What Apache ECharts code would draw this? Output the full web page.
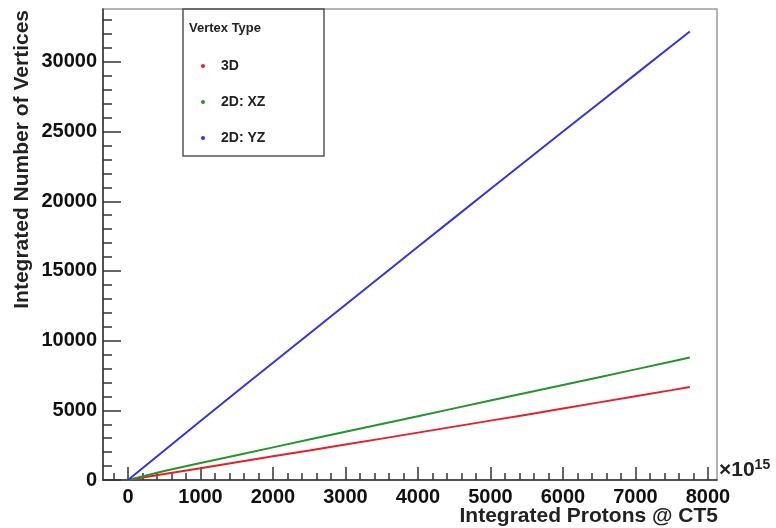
<!DOCTYPE html>
<html>
<head>
<meta charset="utf-8">
<script src="https://cdn.jsdelivr.net/npm/echarts@6/dist/echarts.min.js"></script>
<style>
  html, body { margin: 0; padding: 0; background: #fff; }
  #chart { width: 776px; height: 528px; }
</style>
</head>
<body>
<div id="chart"></div>
<script>
// Integrated protons on target (x 10^15)
const protons = [0, 500, 1000, 1500, 2000, 2500, 3000, 3500, 4000, 4500, 5000, 5500, 6000, 6500, 7000, 7500, 7750];
// Integrated vertex counts per vertex type
const vertices3D = [0, 430, 850, 1280, 1700, 2120, 2550, 2970, 3400, 3830, 4260, 4690, 5130, 5570, 6010, 6450, 6680];
const verticesXZ = [0, 640, 1220, 1780, 2340, 2900, 3460, 4020, 4580, 5140, 5700, 6260, 6820, 7380, 7940, 8500, 8790];
const verticesYZ = [0, 2120, 4230, 6330, 8420, 10500, 12580, 14660, 16740, 18810, 20880, 22950, 25010, 27060, 29110, 31160, 32180];

const seriesNames = ['3D', '2D: XZ', '2D: YZ'];
const seriesColors = ['#e6202a', '#22962a', '#3434dc'];
const seriesValues = [vertices3D, verticesXZ, verticesYZ];

// Axis ranges and tick positions
const xMin = -345, xMax = 8125;
const yMin = 0, yMax = 33800;
const xMajorTicks = [0, 1000, 2000, 3000, 4000, 5000, 6000, 7000, 8000];
const xMinorTicks = [];
for (let v = -200; v <= 8000; v += 200) xMinorTicks.push(v);
const yMajorTicks = [0, 5000, 10000, 15000, 20000, 25000, 30000];
const yMinorTicks = [];
for (let v = 0; v <= 33000; v += 1000) yMinorTicks.push(v);

const FONT = '"Liberation Sans", Arial, Helvetica, sans-serif';
const labelStyle = {
  color: '#111', fontFamily: FONT, fontWeight: 'bold', fontSize: 20,
  formatter: (v) => String(Math.round(v))
};
const tickLine = { color: '#333', width: 1.5 };

const chart = echarts.init(document.getElementById('chart'), null, { renderer: 'canvas' });

chart.setOption({
  animation: false,
  backgroundColor: '#fff',
  grid: {
    left: 103, top: 9, right: 59, bottom: 48,
    show: true, borderColor: '#9a9a9a', borderWidth: 1.5, backgroundColor: 'transparent'
  },
  legend: {
    data: seriesNames,
    orient: 'vertical',
    left: 196, top: 54,
    itemGap: 22,
    icon: 'circle',
    itemWidth: 4, itemHeight: 4,
    textStyle: { color: '#222', fontFamily: FONT, fontWeight: 'bold', fontSize: 14, padding: [0, 0, 0, 11] }
  },
  xAxis: [
    {
      type: 'value', min: xMin, max: xMax,
      axisLine: { onZero: false, lineStyle: tickLine },
      axisTick: { inside: true, length: 13, customValues: xMajorTicks, lineStyle: tickLine },
      axisLabel: { customValues: xMajorTicks, margin: 7, ...labelStyle },
      splitLine: { show: false }
    },
    {
      type: 'value', min: xMin, max: xMax, position: 'bottom',
      axisLine: { show: false, onZero: false },
      axisTick: { inside: true, length: 7, customValues: xMinorTicks, lineStyle: tickLine },
      axisLabel: { show: false },
      splitLine: { show: false }
    }
  ],
  yAxis: [
    {
      type: 'value', min: yMin, max: yMax,
      axisLine: { show: true, onZero: false, lineStyle: tickLine },
      axisTick: { show: true, inside: true, length: 18, customValues: yMajorTicks, lineStyle: tickLine },
      axisLabel: { customValues: yMajorTicks, margin: 6, ...labelStyle },
      splitLine: { show: false }
    },
    {
      type: 'value', min: yMin, max: yMax, position: 'left',
      axisLine: { show: false, onZero: false },
      axisTick: { show: true, inside: true, length: 9, customValues: yMinorTicks, lineStyle: tickLine },
      axisLabel: { show: false },
      splitLine: { show: false }
    }
  ],
  series: seriesNames.map((name, i) => ({
    name: name,
    type: 'line',
    xAxisIndex: 0, yAxisIndex: 0,
    showSymbol: false,
    symbol: 'circle',
    color: seriesColors[i],
    lineStyle: { width: 2, color: seriesColors[i] },
    data: protons.map((p, k) => [p, seriesValues[i][k]])
  })),
  graphic: [
    {
      type: 'rect',
      shape: { x: 183, y: 9, width: 141, height: 147 },
      style: { fill: 'transparent', stroke: '#555', lineWidth: 1.5 },
      z: 10
    },
    {
      type: 'text', x: 189, y: 28,
      style: { text: 'Vertex Type', fill: '#222', font: 'bold 13px ' + FONT, verticalAlign: 'middle' },
      z: 10
    },
    {
      type: 'text', x: 22, y: 10, rotation: Math.PI / 2,
      style: { text: 'Integrated Number of Vertices', fill: '#222', font: 'bold 21px ' + FONT, align: 'right', verticalAlign: 'middle' }
    },
    {
      type: 'text', x: 718, y: 516,
      style: { text: 'Integrated Protons @ CT5', fill: '#222', font: 'bold 21px ' + FONT, align: 'right', verticalAlign: 'middle' }
    },
    {
      type: 'text', x: 719, y: 470,
      style: {
        text: '{a|×10}{b|15}',
        verticalAlign: 'middle',
        rich: {
          a: { fill: '#222', fontFamily: FONT, fontWeight: 'bold', fontSize: 21 },
          b: { fill: '#222', fontFamily: FONT, fontWeight: 'bold', fontSize: 14, verticalAlign: 'top', padding: [0, 0, 10, 0] }
        }
      }
    }
  ]
});
</script>
</body>
</html>
